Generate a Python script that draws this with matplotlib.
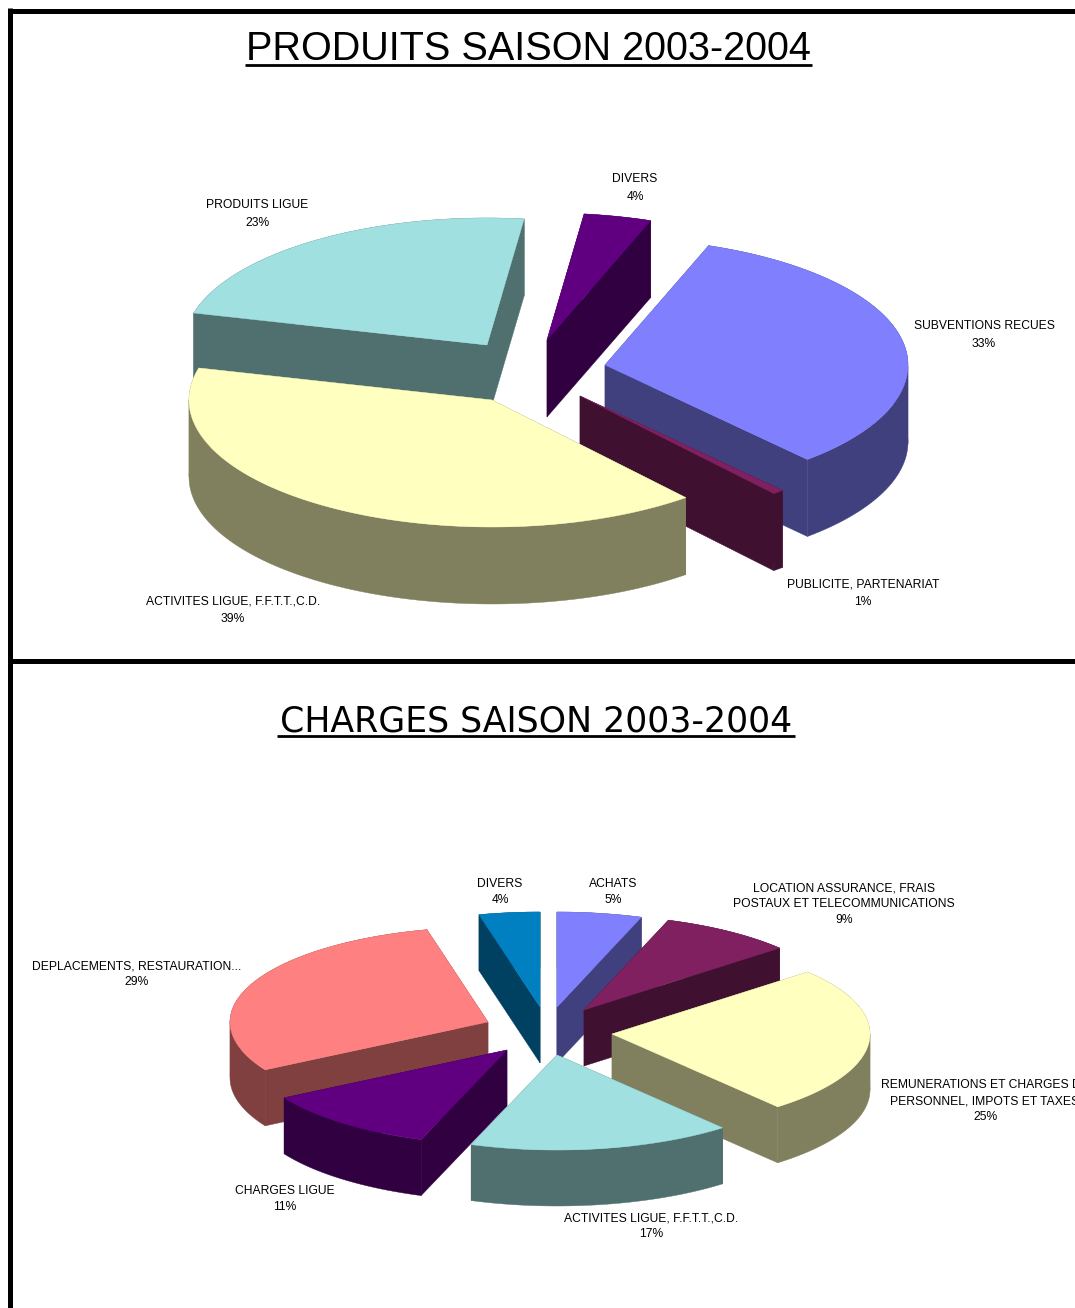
#!/usr/bin/python3
# -*- coding: utf-8 -*-
import matplotlib as ml
ml.use("Agg")
import matplotlib.pyplot as plt
from matplotlib.patches import Polygon
import numpy as np

plt.rcParams['font.family'] = ['Liberation Sans', 'DejaVu Sans']

################################################################################
# data
################################################################################
produits_labels = ['SUBVENTIONS RECUES', 'PUBLICITE, PARTENARIAT',
                   'ACTIVITES LIGUE, F.F.T.T.,C.D.', 'PRODUITS LIGUE', 'DIVERS']
produits_percent = [33, 1, 39, 23, 4]
# slice sizes as measured on the picture, the printed percents are rounded
produits_values = [32.8, 0.6, 40.1, 22.9, 3.6]

charges_labels = ['ACHATS', 'LOCATION ASSURANCE, FRAIS\nPOSTAUX ET TELECOMMUNICATIONS',
                  'REMUNERATIONS ET CHARGES DE\nPERSONNEL, IMPOTS ET TAXES',
                  'ACTIVITES LIGUE, F.F.T.T.,C.D.', 'CHARGES LIGUE',
                  'DEPLACEMENTS, RESTAURATION...', 'DIVERS']
charges_percent = [5, 9, 25, 17, 11, 29, 4]
charges_values = [5.3, 8.4, 25.2, 16.5, 11.2, 29.6, 3.8]

################################################################################
# layout (pixels of the 1075x1308 picture)
################################################################################
BLUE = ('#8080FF', '#40407F')
WINE = ('#802060', '#401030')
YELLOW = ('#FFFFC0', '#80805F')
TEAL = ('#A0E0E0', '#50706F')
PURPLE = ('#600080', '#300040')
PINK = ('#FF8080', '#804040')
CYAN = ('#0080C0', '#004060')

produits_style = {
    'rx': 303, 'ry': 127, 'depth': 77, 'start': 70, 'linespacing': 1.62,
    'apex': [(605, 365), (580, 396), (492, 400), (487, 345), (547, 340)],
    'colors': [BLUE, WINE, YELLOW, TEAL, PURPLE],
    'order': [4, 0, 1, 3, 2],
    'text': [(984, 335), (863, 593), (233, 610), (257, 214), (635, 188)],
}
charges_style = {
    'rx': 258, 'ry': 95, 'depth': 56, 'start': 90, 'linespacing': 1.42,
    'apex': [(557, 1007), (584, 1010), (612, 1034), (557, 1055),
             (507, 1050), (488, 1022), (540, 1007)],
    'colors': [BLUE, WINE, YELLOW, TEAL, PURPLE, PINK, CYAN],
    'order': [6, 0, 1, 5, 4, 2, 3],
    'text': [(613, 892), (844, 904), (985, 1101), (651, 1226),
             (285, 1199), (137, 974), (500, 892)],
}

################################################################################
# core logic
################################################################################
def drawSlice(ax, apex, a0, a1, style, colors, zorder):
    """1 slice: extruded walls first, the top face over them"""
    theta = np.radians(np.linspace(a0, a1, 121))
    xs = apex[0] + style['rx'] * np.sin(theta)
    ys = apex[1] - style['ry'] * np.cos(theta)
    arc = np.column_stack([xs, ys])
    drop = np.array([0, style['depth']])
    tip = np.array(apex, dtype=float)

    # the outer wall folds at the left and right ends of the ellipse,
    # so cut it there or the fill leaves a hole
    folds = np.where(np.diff(np.sign(np.cos(theta))) != 0)[0] + 1
    walls = [[tip, arc[0], arc[0] + drop, tip + drop],
             [tip, arc[-1], arc[-1] + drop, tip + drop]]
    start = 0
    for stop in list(folds) + [len(arc) - 1]:
        part = arc[start:stop + 1]
        walls.append(np.vstack([part, (part + drop)[::-1]]))
        start = stop
    for wall in walls:
        ax.add_patch(Polygon(wall, closed=True, fc=colors[1], ec=colors[1],
                             lw=0.3, zorder=zorder))
    ax.add_patch(Polygon(np.vstack([tip, arc]), closed=True, fc=colors[0], ec=colors[0],
                         lw=0.3, zorder=zorder + 0.5))

def drawPie(ax, labels, percents, values, style):
    """Sweep of every slice comes from its value, clockwise from 'start'"""
    total = float(sum(values))
    edges = np.r_[0, np.cumsum(values)] / total * 360.0 + (90 - style['start'])
    for z, i in enumerate(style['order']):
        drawSlice(ax, style['apex'][i], edges[i], edges[i + 1], style,
                  style['colors'][i], 2 + z)
    for label, percent, pos in zip(labels, percents, style['text']):
        ax.text(pos[0], pos[1], '%s\n%d%%' % (label, percent), ha='center', va='center',
                fontsize=8.7, color='black', linespacing=style['linespacing'],
                zorder=30, clip_on=True)

def drawTitle(ax, text, x0, x1, y, size, family):
    ax.text((x0 + x1) / 2.0, y, text, ha='center', va='baseline', fontsize=size,
            color='black', family=family)
    ax.plot([x0, x1], [y + 5, y + 5], color='black', lw=2.0, solid_capstyle='butt')

################################################################################
# main
################################################################################
fig = plt.figure(figsize=(10.75, 13.08), dpi=100)
ax = fig.add_axes([0, 0, 1, 1])
ax.set_xlim(0, 1075)
ax.set_ylim(1308, 0)
ax.axis('off')

# frame
ax.plot([10, 10], [8, 660], color='black', lw=3.6, solid_capstyle='butt')
ax.plot([9.5, 9.5], [658, 1308], color='black', lw=3.6, solid_capstyle='butt')
ax.plot([8, 1075], [10.5, 10.5], color='black', lw=3.6, solid_capstyle='butt')
ax.plot([8, 1075], [660.5, 660.5], color='black', lw=3.6, solid_capstyle='butt')

drawTitle(ax, 'PRODUITS SAISON 2003-2004', 245, 812, 60, 28.5, ['Liberation Sans', 'DejaVu Sans'])
drawTitle(ax, 'CHARGES SAISON 2003-2004', 277, 795, 731, 25, ['DejaVu Sans'])

drawPie(ax, produits_labels, produits_percent, produits_values, produits_style)
drawPie(ax, charges_labels, charges_percent, charges_values, charges_style)

plt.savefig('out.png', dpi=100)
plt.close()
